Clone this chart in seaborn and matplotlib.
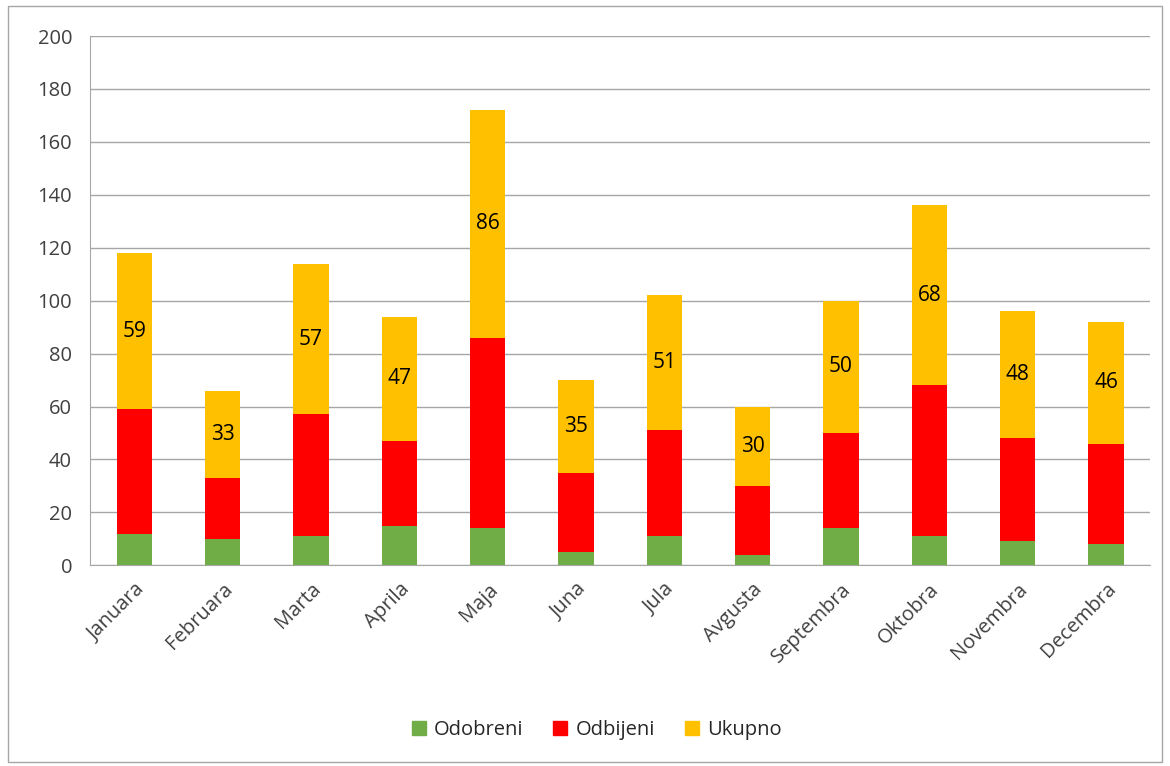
import numpy as np
import pandas as pd
import matplotlib; matplotlib.use("Agg")
import matplotlib.pyplot as plt
import matplotlib.patches as mpatches
import seaborn as sns

# ── DADOS ─────────────────────────────────────────────────────────────────────
MONTHS = ["Januara", "Februara", "Marta", "Aprila", "Maja", "Juna",
          "Jula", "Avgusta", "Septembra", "Oktobra", "Novembra", "Decembra"]
ODOBRENI = [12, 10, 11, 15, 14, 5, 11, 4, 14, 11, 9, 8]
ODBIJENI = [47, 23, 46, 32, 72, 30, 40, 26, 36, 57, 39, 38]
UKUPNO   = [59, 33, 57, 47, 86, 35, 51, 30, 50, 68, 48, 46]

GREEN = "#70AD47"; RED = "#FF0000"; YELLOW = "#FFC000"; GRID = "#A6A6A6"

sns.set_style("white")
plt.rcParams["font.family"] = ["Open Sans", "DejaVu Sans"]

df = pd.DataFrame({"mjesec": MONTHS, "odobreni": ODOBRENI,
                   "odbijeni": ODBIJENI, "ukupno": UKUPNO})
b1 = np.array(ODOBRENI)
b2 = b1 + np.array(ODBIJENI)

fig = plt.figure(figsize=(11.7, 7.66), dpi=100)
ax = fig.add_axes([0.077, 0.262, 0.906, 0.691])

kw = dict(width=0.4, saturation=1, linewidth=0, ax=ax)
sns.barplot(data=df, x="mjesec", y="odobreni", color=GREEN, **kw)
sns.barplot(data=df, x="mjesec", y="odbijeni", color=RED, bottom=b1, **kw)
sns.barplot(data=df, x="mjesec", y="ukupno", color=YELLOW, bottom=b2, **kw)

for i, v in enumerate(UKUPNO):
    ax.text(i, b2[i] + v / 2, str(v), ha="center", va="center",
            fontsize=15, color="black")

ax.set_ylim(0, 200)
ax.set_xlim(-0.5, len(MONTHS) - 0.5)
ax.set_yticks(range(0, 201, 20))
ax.yaxis.grid(True, color=GRID, lw=1)
ax.set_axisbelow(True)
ax.set_xlabel(""); ax.set_ylabel("")
for s in ["top", "right"]:
    ax.spines[s].set_visible(False)
for s in ["left", "bottom"]:
    ax.spines[s].set_color(GRID)
ax.tick_params(axis="y", length=7, color=GRID, labelsize=14.5, labelcolor="#404040", pad=6)
ax.set_xticks(np.arange(-0.5, len(MONTHS)), minor=True)
ax.tick_params(axis="x", which="major", length=0, labelsize=14.5,
               labelcolor="#404040", pad=10)
ax.tick_params(axis="x", which="minor", length=7, color=GRID)
plt.setp(ax.get_xticklabels(), rotation=45, ha="right", rotation_mode="anchor")

ax.legend(handles=[mpatches.Patch(color=GREEN, label="Odobreni"),
                   mpatches.Patch(color=RED, label="Odbijeni"),
                   mpatches.Patch(color=YELLOW, label="Ukupno")],
          loc="center", bbox_to_anchor=(0.51, 0.047), bbox_transform=fig.transFigure,
          ncol=3, frameon=False, fontsize=14.5, handlelength=0.7, handleheight=0.7,
          columnspacing=1.5, handletextpad=0.4)

fig.patches.append(mpatches.Rectangle((0.007, 0.005), 0.986, 0.987, fill=False,
                                      edgecolor=GRID, lw=1, transform=fig.transFigure))

plt.savefig("out.png", dpi=100)
plt.close()
